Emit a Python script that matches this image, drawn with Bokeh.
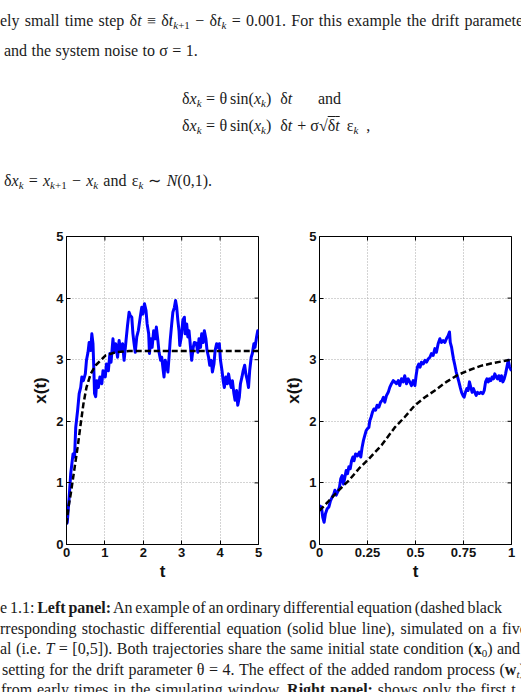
import math
from bokeh.plotting import figure
from bokeh.models import Range1d, FixedTicker, Div
from bokeh.layouts import column, row
from bokeh.embed import file_html
from bokeh.resources import INLINE

# ---- data -----------------------------------------------------------------
# left panel: full window t in [0, 5]
t_left_sde = [0.00, 0.02, 0.07, 0.11, 0.17, 0.21, 0.24, 0.29, 0.33, 0.37, 0.40, 0.44, 0.49, 0.52,
              0.56, 0.59, 0.63, 0.66, 0.69, 0.71, 0.73, 0.76, 0.79, 0.83, 0.87, 0.92, 0.95, 1.01,
              1.04, 1.09, 1.13, 1.16, 1.21, 1.24, 1.28, 1.33, 1.37, 1.41, 1.46, 1.50, 1.55, 1.59,
              1.63, 1.66, 1.70, 1.73, 1.76, 1.79, 1.83, 1.87, 1.92, 1.96, 1.99, 2.03, 2.07, 2.10,
              2.14, 2.16, 2.20, 2.23, 2.27, 2.31, 2.34, 2.38, 2.41, 2.45, 2.48, 2.52, 2.54, 2.57,
              2.60, 2.64, 2.67, 2.70, 2.74, 2.77, 2.81, 2.84, 2.87, 2.90, 2.93, 2.95, 2.99, 3.03,
              3.07, 3.09, 3.13, 3.16, 3.19, 3.23, 3.26, 3.30, 3.33, 3.38, 3.42, 3.45, 3.49, 3.52,
              3.56, 3.59, 3.63, 3.66, 3.70, 3.73, 3.77, 3.80, 3.84, 3.87, 3.91, 3.94, 3.98, 4.01,
              4.05, 4.08, 4.11, 4.15, 4.19, 4.22, 4.25, 4.29, 4.32, 4.36, 4.39, 4.43, 4.46, 4.50,
              4.53, 4.57, 4.60, 4.64, 4.67, 4.71, 4.74, 4.77, 4.81, 4.84, 4.88, 4.91, 4.95, 4.98,
              5.00]
x_left_sde = [0.33, 0.36, 0.77, 1.15, 1.47, 1.42, 1.90, 2.18, 2.45, 2.55, 2.72, 2.66, 2.77, 2.99,
              3.12, 3.28, 3.15, 3.42, 3.26, 2.88, 2.45, 2.40, 2.66, 2.55, 2.72, 2.61, 2.82, 2.72,
              2.93, 2.82, 3.10, 2.96, 3.34, 3.12, 3.26, 3.04, 3.31, 3.15, 3.26, 2.99, 3.31, 3.56,
              3.77, 3.72, 3.69, 3.42, 3.26, 3.12, 3.37, 3.47, 3.69, 3.85, 3.74, 3.91, 3.80, 3.58,
              3.42, 3.10, 3.34, 3.20, 3.47, 3.34, 3.53, 3.31, 3.12, 2.99, 3.04, 2.82, 2.72, 2.99,
              2.93, 2.80, 3.04, 3.31, 3.58, 3.77, 3.85, 3.96, 3.85, 3.64, 3.47, 3.23, 3.37, 3.64,
              3.69, 3.42, 3.58, 3.37, 3.47, 3.20, 2.99, 3.20, 3.28, 3.27, 3.12, 3.34, 3.20, 3.42,
              3.28, 3.47, 3.34, 3.15, 3.04, 2.91, 2.99, 2.80, 2.93, 3.15, 3.26, 3.20, 3.26, 2.99,
              2.82, 2.66, 2.55, 2.72, 2.61, 2.77, 2.66, 2.55, 2.66, 2.45, 2.34, 2.50, 2.26, 2.39,
              2.61, 2.72, 2.82, 2.91, 2.77, 2.66, 2.55, 2.82, 3.04, 3.10, 3.26, 3.20, 3.37, 3.47,
              3.40]
t_left_ode = [0.00, 0.05, 0.11, 0.20, 0.29, 0.37, 0.44, 0.52, 0.63, 0.76, 0.89, 1.02, 1.28, 1.63,
              2.00, 3.00, 4.00, 5.00]
x_left_ode = [0.33, 0.60, 0.82, 1.20, 1.58, 1.96, 2.28, 2.55, 2.77, 2.91, 2.99, 3.07, 3.12, 3.14,
              3.14, 3.14, 3.14, 3.14]

# right panel: first time unit only
t_right_sde = [0.000, 0.010, 0.017, 0.024, 0.031, 0.040, 0.049, 0.057, 0.066, 0.075, 0.080, 0.087,
               0.094, 0.104, 0.111, 0.118, 0.125, 0.132, 0.139, 0.146, 0.153, 0.160, 0.167, 0.174,
               0.180, 0.188, 0.198, 0.208, 0.215, 0.222, 0.229, 0.236, 0.243, 0.250, 0.257, 0.262,
               0.269, 0.276, 0.283, 0.292, 0.300, 0.309, 0.318, 0.326, 0.333, 0.340, 0.349, 0.358,
               0.366, 0.375, 0.384, 0.392, 0.401, 0.410, 0.418, 0.427, 0.436, 0.444, 0.453, 0.462,
               0.470, 0.479, 0.488, 0.497, 0.503, 0.510, 0.517, 0.524, 0.531, 0.540, 0.549, 0.557,
               0.566, 0.575, 0.583, 0.592, 0.601, 0.609, 0.618, 0.627, 0.635, 0.644, 0.653, 0.661,
               0.670, 0.677, 0.681, 0.688, 0.693, 0.698, 0.705, 0.712, 0.719, 0.726, 0.733, 0.740,
               0.747, 0.753, 0.760, 0.767, 0.774, 0.781, 0.788, 0.795, 0.802, 0.809, 0.816, 0.823,
               0.832, 0.840, 0.851, 0.858, 0.865, 0.872, 0.879, 0.885, 0.892, 0.899, 0.906, 0.913,
               0.920, 0.927, 0.934, 0.941, 0.948, 0.955, 0.962, 0.969, 0.976, 0.983, 0.990, 1.000]
x_right_sde = [0.63, 0.61, 0.44, 0.36, 0.50, 0.58, 0.61, 0.71, 0.77, 0.82, 0.88, 0.80,
               0.85, 0.93, 1.07, 1.12, 0.98, 1.09, 1.20, 1.15, 1.26, 1.23, 1.36, 1.42,
               1.36, 1.47, 1.44, 1.50, 1.42, 1.58, 1.69, 1.77, 1.85, 1.88, 1.90, 2.01,
               2.07, 2.15, 2.20, 2.18, 2.26, 2.23, 2.31, 2.34, 2.39, 2.31, 2.42, 2.47,
               2.55, 2.61, 2.66, 2.64, 2.61, 2.66, 2.58, 2.69, 2.64, 2.74, 2.61, 2.69,
               2.64, 2.58, 2.66, 2.58, 2.74, 2.88, 2.93, 2.88, 2.96, 2.93, 2.99, 2.96,
               3.01, 3.04, 3.10, 3.07, 3.18, 3.12, 3.26, 3.34, 3.28, 3.31, 3.28, 3.34,
               3.39, 3.45, 3.28, 3.20, 3.10, 3.01, 2.91, 2.80, 2.72, 2.64, 2.55, 2.47,
               2.42, 2.39, 2.47, 2.53, 2.50, 2.64, 2.55, 2.47, 2.53, 2.47, 2.42, 2.47,
               2.45, 2.47, 2.45, 2.50, 2.64, 2.69, 2.64, 2.69, 2.66, 2.72, 2.69, 2.77,
               2.72, 2.69, 2.74, 2.66, 2.74, 2.64, 2.69, 2.77, 2.88, 2.99, 2.88, 2.82]
t_right_ode = [0.000, 0.049, 0.100, 0.153, 0.205, 0.257, 0.323, 0.392, 0.444, 0.497, 0.549, 0.601,
               0.661, 0.719, 0.771, 0.840, 0.910, 1.000]
x_right_ode = [0.55, 0.71, 0.88, 1.04, 1.23, 1.39, 1.61, 1.90, 2.07, 2.26, 2.39, 2.50,
               2.64, 2.75, 2.82, 2.90, 2.95, 3.00]

y_ticks = [0, 1, 2, 3, 4, 5]
left_x_ticks = [0, 1, 2, 3, 4, 5]
right_x_ticks = [0, 0.25, 0.5, 0.75, 1]
right_x_labels = ["0", "0.25", "0.5", "0.75", "1"]

# ---- styling helpers ------------------------------------------------------
SANS = "Liberation Sans"
SERIF = "Liberation Serif"
BLUE = "#0000ff"
FRAME_W, FRAME_H = 192, 308
TOP_H = 220
B_TOP, B_BOTTOM = 16, 48
Y_END = 5


def make_panel(x_end, x_ticks, border_left, border_right, x_labels=None):
    p = figure(width=border_left + FRAME_W + border_right, height=B_TOP + FRAME_H + B_BOTTOM,
               x_range=Range1d(0, x_end), y_range=Range1d(0, Y_END),
               output_backend="svg", toolbar_location=None,
               min_border_left=border_left, min_border_right=border_right,
               min_border_top=B_TOP, min_border_bottom=B_BOTTOM,
               background_fill_color="white", border_fill_color="white")
    p.outline_line_color = "black"
    p.outline_line_width = 1
    p.outline_line_alpha = 1
    p.xaxis.ticker = FixedTicker(ticks=x_ticks)
    p.yaxis.ticker = FixedTicker(ticks=y_ticks)
    if x_labels:
        p.xaxis.major_label_overrides = {tk: lb for tk, lb in zip(x_ticks, x_labels)}
    for ax in (p.xaxis[0], p.yaxis[0]):
        ax.major_tick_in = 4
        ax.major_tick_out = 0
        ax.minor_tick_line_color = None
        ax.major_tick_line_color = "black"
        ax.axis_line_color = "black"
        ax.major_label_standoff = 3
        ax.major_label_text_font = SANS
        ax.major_label_text_font_style = "bold"
        ax.major_label_text_font_size = "13px"
        ax.major_label_text_color = "#111111"
        ax.axis_label_text_font = SANS
        ax.axis_label_text_font_style = "bold"
        ax.axis_label_text_font_size = "17px"
        ax.axis_label_text_color = "#111111"
    p.xaxis.axis_label = "t"
    p.yaxis.axis_label = "x(t)"
    p.xaxis.axis_label_standoff = 2
    p.yaxis.axis_label_standoff = 3
    for g, tk in ((p.xgrid[0], x_ticks), (p.ygrid[0], y_ticks)):
        g.ticker = FixedTicker(ticks=tk)
        g.grid_line_color = "#a8a8a8"
        g.grid_line_dash = "1 2"
        g.grid_line_width = 1
    # inward tick marks on the right and top sides of the box (half of each dash
    # falls outside the frame and is clipped away)
    p.scatter([x_end] * len(y_ticks), y_ticks, marker="dash", size=8,
              line_color="black", line_width=1)
    p.scatter(x_ticks, [Y_END] * len(x_ticks), marker="dash", size=8, angle=math.pi / 2,
              line_color="black", line_width=1)
    return p


left = make_panel(5, left_x_ticks, 66, 12)
left.line(t_left_sde, x_left_sde, line_color=BLUE, line_width=3, line_join="round")
left.line(t_left_ode, x_left_ode, line_color="black", line_width=2.5, line_dash="6 3")

right = make_panel(1, right_x_ticks, 49, 10, right_x_labels)
right.line(t_right_sde, x_right_sde, line_color=BLUE, line_width=3, line_join="round")
right.line(t_right_ode, x_right_ode, line_color="black", line_width=2.5, line_dash="6 3")

# ---- surrounding page text -------------------------------------------------
SUB = 'style="font-size:11px;vertical-align:-3px;line-height:0"'


def sub(s):
    return f"<sub {SUB}>{s}</sub>"


def gap(px, s):
    return f'<span style="margin:0 {px}px">{s}</span>'


def line_div(left_px, baseline, html, ws=0.0):
    top = baseline - 15.4
    return (f'<div style="position:absolute;left:{left_px}px;top:{top}px;'
            f'white-space:nowrap;line-height:20px;word-spacing:{ws}px;">{html}</div>')


def page_block(height, lines):
    inner = "".join(line_div(*ln) for ln in lines)
    return (f'<div style="position:relative;width:521px;height:{height}px;overflow:hidden;'
            f'font-family:\'{SERIF}\';font-size:16px;color:#1a1a1a;background:white;">'
            f'{inner}</div>')


dt = "δ<i>t</i>"
xk = "<i>x</i>" + sub("<i>k</i>")
eq_lhs = f"δ{xk}{gap(4.5, '=')}θ<span style=\"margin-left:2.7px\">sin</span>({xk})"
eq_dt = f'<span style="margin-left:9px">{dt}</span>'
top_lines = [
    (0, 26.7, f"ely small time step {dt} ≡ {dt}{sub('<i>k</i>+1')} − {dt}{sub('<i>k</i>')} = 0.001. "
              "For this example the drift parameter", 1.3),
    (4, 56.7, "and the system noise to σ = 1.", 0.4),
    (182, 104, eq_lhs + eq_dt),
    (318, 104, "and"),
    (182, 131.7, eq_lhs + eq_dt
     + f'<span style="margin:0 4px 0 5px">+</span>σ√<span style="text-decoration:overline">{dt}</span>'
     + f'<span style="margin-left:7px">ε{sub("<i>k</i>")}</span>'
     + '<span style="margin-left:8px">,</span>'),
    (4, 186.7, f"δ{xk} = <i>x</i>{sub('<i>k</i>+1')} − {xk} and ε{sub('<i>k</i>')} ∼ "
               "<i>N</i>(0,1).", 1.2),
]

cap_top = TOP_H + B_TOP + FRAME_H + B_BOTTOM
cap_h = 692 - cap_top
cap_lines = [
    (0, 613.3 - cap_top, "e 1.1: <b>Left panel:</b> An example of an ordinary differential equation "
                         "(dashed black", -1.2),
    (0, 634.0 - cap_top, "rresponding stochastic differential equation (solid blue line), simulated on a five",
     1.4),
    (0, 654.3 - cap_top, f"al (i.e. <i>T</i> = [0,5]). Both trajectories share the same initial state "
                         f"condition (<b>x</b>{sub('0')}) and", 0.5),
    (2, 675.0 - cap_top, f"setting for the drift parameter θ = 4. The effect of the added random process "
                         f"(<b>w</b>{sub('<i>t</i>')})", 0.5),
    (1, 695.3 - cap_top, "from early times in the simulating window. <b>Right panel:</b> shows only the first t",
     0.9),
]

top_div = Div(text=page_block(TOP_H, top_lines), width=521, height=TOP_H, margin=0)
cap_div = Div(text=page_block(cap_h, cap_lines), width=521, height=cap_h, margin=0)

page = column(top_div, row(left, right, spacing=0), cap_div, spacing=0)

open("out.html", "w").write(file_html(page, INLINE))
